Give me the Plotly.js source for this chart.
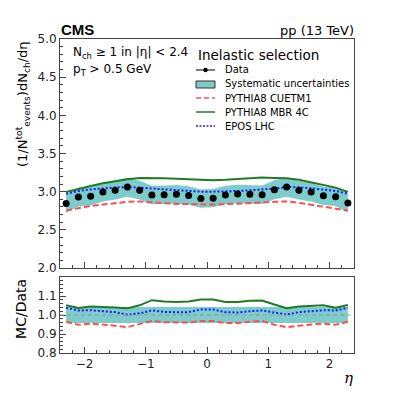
<!DOCTYPE html>
<html>
<head>
<meta charset="utf-8">
<script src="https://cdn.plot.ly/plotly-3.0.1.min.js"></script>
<style>
  html, body { margin: 0; padding: 0; background: #fff; }
  #plot { width: 393px; height: 393px; }
</style>
</head>
<body>
<div id="plot"></div>
<script>
// bin centres in eta
const eta = [-2.3, -2.1, -1.9, -1.7, -1.5, -1.3, -1.1, -0.9, -0.7, -0.5, -0.3, -0.1,
             0.1, 0.3, 0.5, 0.7, 0.9, 1.1, 1.3, 1.5, 1.7, 1.9, 2.1, 2.3];

// measured dN/deta
const dataVals = [2.845, 2.93, 2.94, 2.995, 3.02, 3.06, 3.02, 2.955, 2.96, 2.965, 2.95, 2.91,
                  2.915, 2.955, 2.97, 2.965, 2.96, 3.025, 3.06, 3.02, 2.995, 2.945, 2.935, 2.85];
// relative systematic uncertainty
const sysRel = [0.042, 0.042, 0.041, 0.041, 0.041, 0.041, 0.041, 0.041, 0.041, 0.041, 0.041, 0.041,
                0.041, 0.041, 0.041, 0.041, 0.041, 0.041, 0.041, 0.041, 0.041, 0.041, 0.042, 0.042];

// generator predictions
const cuetm1 = [2.752, 2.788, 2.814, 2.832, 2.85, 2.867, 2.872, 2.858, 2.85, 2.84, 2.836, 2.832,
                2.832, 2.836, 2.84, 2.85, 2.858, 2.867, 2.872, 2.854, 2.827, 2.8, 2.78, 2.752];
const mbr4c = [2.996, 3.04, 3.075, 3.11, 3.137, 3.164, 3.18, 3.18, 3.177, 3.168, 3.16, 3.15,
               3.15, 3.155, 3.164, 3.177, 3.186, 3.18, 3.177, 3.155, 3.124, 3.093, 3.053, 2.996];
const eposLhc = [2.973, 3.009, 3.03, 3.044, 3.053, 3.062, 3.053, 3.035, 3.027, 3.018, 3.009, 3.0,
                 3.0, 3.0, 3.009, 3.018, 3.027, 3.04, 3.062, 3.058, 3.044, 3.03, 3.009, 2.973];

// MC/Data
const cuetm1Ratio = [0.964, 0.949, 0.955, 0.951, 0.944, 0.936, 0.951, 0.969, 0.962, 0.96, 0.96, 0.969,
                     0.969, 0.958, 0.958, 0.964, 0.969, 0.949, 0.936, 0.944, 0.949, 0.955, 0.949, 0.964];
const mbr4cRatio = [1.051, 1.037, 1.045, 1.043, 1.04, 1.035, 1.051, 1.078, 1.071, 1.069, 1.071, 1.082,
                    1.082, 1.069, 1.069, 1.075, 1.076, 1.055, 1.036, 1.045, 1.047, 1.051, 1.038, 1.053];
const eposRatio = [1.038, 1.024, 1.025, 1.02, 1.015, 1.002, 1.009, 1.024, 1.016, 1.015, 1.015, 1.029,
                   1.029, 1.015, 1.013, 1.02, 1.024, 1.013, 1.002, 1.015, 1.02, 1.025, 1.024, 1.038];

const bandColor = '#7ccccb';
const redColor = '#ff4d4d';
const greenColor = '#237a23';
const blueColor = '#1a1aff';

const sysUp = dataVals.map((v, i) => v * (1 + sysRel[i]));
const sysDown = dataVals.map((v, i) => v * (1 - sysRel[i]));
const ratioUp = sysRel.map(s => 1 + s);
const ratioDown = sysRel.map(s => 1 - s);

const traces = [
    // main panel
    { x: eta, y: sysDown, mode: 'lines', line: { width: 0 }, hoverinfo: 'skip', xaxis: 'x', yaxis: 'y' },
    { x: eta, y: sysUp, mode: 'lines', line: { width: 0 }, fill: 'tonexty', fillcolor: bandColor,
      name: 'Systematic uncertainties', xaxis: 'x', yaxis: 'y' },
    { x: eta, y: cuetm1, mode: 'lines', name: 'PYTHIA8 CUETM1',
      line: { color: redColor, width: 2, dash: '6px,3px' }, xaxis: 'x', yaxis: 'y' },
    { x: eta, y: mbr4c, mode: 'lines', name: 'PYTHIA8 MBR 4C',
      line: { color: greenColor, width: 2 }, xaxis: 'x', yaxis: 'y' },
    { x: eta, y: eposLhc, mode: 'lines', name: 'EPOS LHC',
      line: { color: blueColor, width: 2, dash: '2px,2px' }, xaxis: 'x', yaxis: 'y' },
    { x: eta, y: dataVals, mode: 'markers', name: 'Data',
      marker: { color: '#000', size: 7 }, xaxis: 'x', yaxis: 'y' },

    // ratio panel
    { x: eta, y: ratioDown, mode: 'lines', line: { width: 0 }, hoverinfo: 'skip', xaxis: 'x2', yaxis: 'y2' },
    { x: eta, y: ratioUp, mode: 'lines', line: { width: 0 }, fill: 'tonexty', fillcolor: bandColor,
      xaxis: 'x2', yaxis: 'y2' },
    { x: eta, y: cuetm1Ratio, mode: 'lines',
      line: { color: redColor, width: 2, dash: '6px,3px' }, xaxis: 'x2', yaxis: 'y2' },
    { x: eta, y: mbr4cRatio, mode: 'lines',
      line: { color: greenColor, width: 2 }, xaxis: 'x2', yaxis: 'y2' },
    { x: eta, y: eposRatio, mode: 'lines',
      line: { color: blueColor, width: 2, dash: '2px,2px' }, xaxis: 'x2', yaxis: 'y2' }
];

const frameColor = '#444';
const tickFont = { family: 'DejaVu Sans', size: 12, color: '#222' };

function xAxis(showLabels, anchor) {
    return {
        range: [-2.4, 2.4], anchor: anchor, domain: [0, 1],
        showgrid: false, zeroline: false,
        showline: true, mirror: true, linecolor: frameColor, linewidth: 1,
        ticks: 'inside', ticklen: 6, tickcolor: frameColor, dtick: 1, tick0: 0,
        showticklabels: showLabels, tickfont: tickFont,
        minor: { ticks: 'inside', ticklen: 3, dtick: 0.2, tick0: 0, tickcolor: frameColor }
    };
}

// legend drawn by hand, positions in paper units
const legX0 = 0.4626, legX1 = 0.5272, legXText = 0.5544;
const legRows = [0.9013, 0.8567, 0.8121, 0.7675, 0.7229];
const legLabels = ['Data', 'Systematic uncertainties', 'PYTHIA8 CUETM1', 'PYTHIA8 MBR 4C', 'EPOS LHC'];

const shapes = [
    { type: 'line', xref: 'x2', yref: 'y2', x0: -2.4, x1: 2.4, y0: 1, y1: 1,
      line: { color: '#999', width: 1, dash: '4px,3px' }, layer: 'above' },
    // Data
    { type: 'line', xref: 'paper', yref: 'paper', x0: legX0, x1: legX1, y0: legRows[0], y1: legRows[0],
      line: { color: '#555', width: 1.5 } },
    { type: 'circle', xref: 'paper', yref: 'paper', xsizemode: 'pixel', ysizemode: 'pixel',
      xanchor: (legX0 + legX1) / 2, yanchor: legRows[0], x0: -2.2, x1: 2.2, y0: -2.2, y1: 2.2,
      fillcolor: '#000', line: { width: 0 } },
    // Systematics
    { type: 'rect', xref: 'paper', yref: 'paper', x0: legX0, x1: legX1, y0: 0.8439, y1: 0.8662,
      fillcolor: bandColor, line: { color: '#333', width: 1 } },
    // models
    { type: 'line', xref: 'paper', yref: 'paper', x0: legX0, x1: legX1, y0: legRows[2], y1: legRows[2],
      line: { color: redColor, width: 1.5, dash: '5px,3px' } },
    { type: 'line', xref: 'paper', yref: 'paper', x0: legX0, x1: legX1, y0: legRows[3], y1: legRows[3],
      line: { color: greenColor, width: 1.5 } },
    { type: 'line', xref: 'paper', yref: 'paper', x0: legX0, x1: legX1, y0: legRows[4], y1: legRows[4],
      line: { color: blueColor, width: 1.5, dash: '2px,1.5px' } }
];

const annotations = [
    { text: '<b>CMS</b>', x: -0.004, y: 1.0287, xanchor: 'left', yanchor: 'middle',
      font: { family: 'Liberation Sans', size: 15, color: '#000' } },
    { text: 'pp (13 TeV)', x: 1.007, y: 1.0255, xanchor: 'right', yanchor: 'middle',
      font: { family: 'DejaVu Sans', size: 13, color: '#000' } },
    { text: 'N<sub>ch</sub> ≥ 1 in |η| &lt; 2.4', x: 0.037, y: 0.9554, xanchor: 'left', yanchor: 'middle',
      font: { family: 'DejaVu Sans', size: 12, color: '#000' } },
    { text: 'p<sub>T</sub> &gt; 0.5 GeV', x: 0.037, y: 0.9013, xanchor: 'left', yanchor: 'middle',
      font: { family: 'DejaVu Sans', size: 12, color: '#000' } },
    { text: 'Inelastic selection', x: 0.4626, y: 0.949, xanchor: 'left', yanchor: 'middle',
      font: { family: 'DejaVu Sans', size: 13.5, color: '#000' } },
    { text: '(1/N<sup>tot</sup><sub>events</sub>)dN<sub>ch</sub>/dη', x: -0.126, y: 0.793,
      xanchor: 'center', yanchor: 'middle', textangle: -90,
      font: { family: 'DejaVu Sans', size: 13, color: '#000' } },
    { text: 'MC/Data', x: -0.133, y: 0.14, xanchor: 'center', yanchor: 'middle', textangle: -90,
      font: { family: 'DejaVu Sans', size: 14, color: '#000' } },
    { text: '<i>η</i>', x: 0.98, y: -0.08, xanchor: 'center', yanchor: 'middle',
      font: { family: 'DejaVu Serif', size: 15, color: '#000' } }
].map(a => Object.assign({ xref: 'paper', yref: 'paper', showarrow: false }, a));

legLabels.forEach((label, i) => {
    annotations.push({
        xref: 'paper', yref: 'paper', showarrow: false,
        text: label, x: legXText, y: legRows[i], xanchor: 'left', yanchor: 'middle',
        font: { family: 'DejaVu Sans', size: 10, color: '#000' }
    });
});

const layout = {
    width: 393, height: 393,
    margin: { l: 60, r: 39, t: 39, b: 40 },
    paper_bgcolor: '#fff', plot_bgcolor: '#fff',
    showlegend: false,
    xaxis: xAxis(false, 'y'),
    xaxis2: Object.assign(xAxis(true, 'y2'), { matches: 'x' }),
    yaxis: {
        domain: [0.2707, 1], range: [2, 5], anchor: 'x',
        showgrid: false, zeroline: false,
        showline: true, mirror: true, linecolor: frameColor, linewidth: 1,
        ticks: 'inside', ticklen: 6, tickcolor: frameColor, dtick: 0.5, tick0: 0,
        tickformat: '.1f', tickfont: tickFont,
        minor: { ticks: 'inside', ticklen: 3, dtick: 0.1, tick0: 0, tickcolor: frameColor }
    },
    yaxis2: {
        domain: [0, 0.242], range: [0.8, 1.2], anchor: 'x2',
        showgrid: false, zeroline: false,
        showline: true, mirror: true, linecolor: frameColor, linewidth: 1,
        ticks: 'inside', ticklen: 6, tickcolor: frameColor,
        tickvals: [0.8, 0.9, 1.0, 1.1], ticktext: ['0.8', '0.9', '1.0', '1.1'], tickfont: tickFont,
        minor: { ticks: 'inside', ticklen: 3, dtick: 0.02, tick0: 0, tickcolor: frameColor }
    },
    shapes: shapes,
    annotations: annotations
};

Plotly.newPlot('plot', traces, layout, { staticPlot: true });
</script>
</body>
</html>
